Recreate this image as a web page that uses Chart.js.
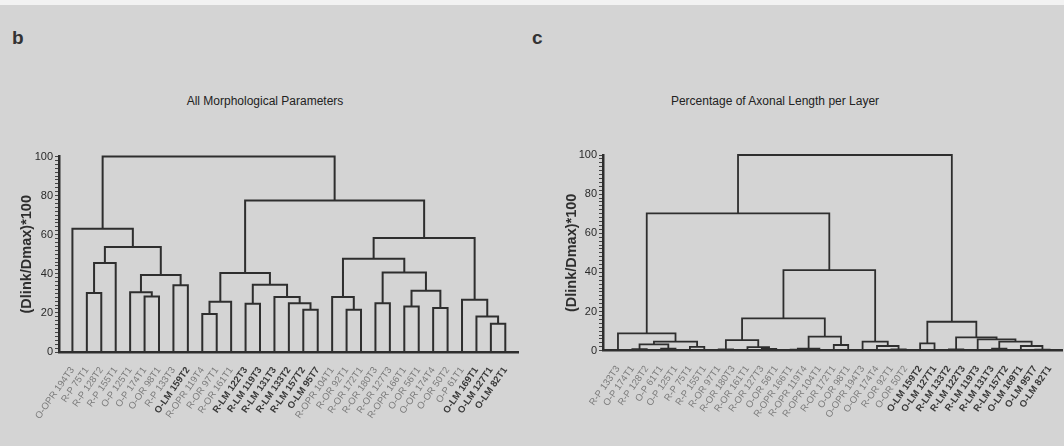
<!DOCTYPE html>
<html>
<head>
<meta charset="utf-8">
<script src="https://cdn.jsdelivr.net/npm/chart.js@4.4.0/dist/chart.umd.min.js"></script>
<style>
  body { margin: 0; width: 1064px; height: 446px; background: #d4d4d4; position: relative; overflow: hidden; font-family: "Liberation Sans", Arial, sans-serif; }
  .franja { position: absolute; left: 0; top: 0; width: 1064px; height: 5px; background: #f2f2f2; }
  canvas { position: absolute; top: 0; }
  .letra { position: absolute; font-size: 19px; font-weight: bold; color: #333; }
  .titulo { position: absolute; top: 94px; font-size: 12px; color: #222; white-space: nowrap; transform: translateX(-50%); }
</style>
</head>
<body>
<div class="franja"></div>
<div class="letra" style="left:12px; top:27px;">b</div>
<div class="letra" style="left:532px; top:27px;">c</div>
<div class="titulo" style="left:265px;">All Morphological Parameters</div>
<div class="titulo" style="left:775px;">Percentage of Axonal Length per Layer</div>
<canvas id="chartB" width="532" height="446" style="left:0px"></canvas>
<canvas id="chartC" width="520" height="446" style="left:544px"></canvas>
<script>
const FONT = '"Liberation Sans", Arial, sans-serif';

// b: all morphological parameters
const leavesB = ['O-OPR 194T3', 'R-P 75T1', 'R-P 128T2', 'R-P 155T1', 'O-P 125T1', 'O-P 174T1',
  'O-OR 98T1', 'R-P 133T3', 'O-LM 159T2', 'R-OPR 119T4', 'R-OR 97T1', 'R-OR 161T1',
  'R-LM 122T3', 'R-LM 119T3', 'R-LM 131T3', 'R-LM 133T2', 'R-LM 157T2', 'O-LM 95T7',
  'R-OPR 104T1', 'R-OR 92T1', 'R-OR 172T1', 'R-OR 180T3', 'R-OR 127T3', 'R-OPR 166T1',
  'O-OR 56T1', 'O-OR 174T4', 'O-OR 50T2', 'O-P 61T1', 'O-LM 169T1', 'O-LM 127T1', 'O-LM 82T1'];

// [left, right, height]; numbers are leaves, 'mN' is the N-th merge
const mergesB = [
  [1, 2, 30.2], ['m0', 3, 45.5], [5, 6, 28.4], [4, 'm2', 30.6], [7, 8, 34.2],
  ['m3', 'm4', 39.4], ['m1', 'm5', 53.7], [0, 'm6', 63.0], [9, 10, 19.4], ['m8', 11, 25.7],
  [12, 13, 24.7], [16, 17, 21.6], [15, 'm11', 25.0], [14, 'm12', 28.1], ['m10', 'm13', 34.4],
  ['m9', 'm14', 40.4], [19, 20, 21.6], [18, 'm16', 28.1], [21, 22, 25.0], [23, 24, 23.3],
  [25, 26, 22.5], ['m19', 'm20', 31.3], ['m18', 'm21', 40.7], ['m17', 'm22', 47.7], [29, 30, 14.5],
  [28, 'm24', 18.2], [27, 'm25', 26.7], ['m23', 'm26', 58.3], ['m15', 'm27', 77.5], ['m7', 'm28', 100]
];

// c: percentage of axonal length per layer
const leavesC = ['R-P 133T3', 'O-P 174T1', 'R-P 128T2', 'O-P 61T1', 'O-P 125T1', 'R-P 75T1',
  'R-P 155T1', 'R-OR 97T1', 'R-OR 180T3', 'R-OR 161T1', 'R-OR 127T3', 'O-OR 56T1',
  'R-OPR 166T1', 'R-OPR 119T4', 'R-OPR 104T1', 'R-OR 172T1', 'O-OR 98T1', 'O-OPR 194T3',
  'O-OR 174T4', 'R-OR 92T1', 'O-OR 50T2', 'O-LM 159T2', 'O-LM 127T1', 'R-LM 133T2',
  'R-LM 122T3', 'R-LM 119T3', 'R-LM 131T3', 'R-LM 157T2', 'O-LM 169T1', 'O-LM 95T7', 'O-LM 82T1'];

const mergesC = [
  [1, 2, 0.8], [3, 4, 1.0], ['m0', 'm1', 3.2], [5, 6, 2.0], ['m2', 'm3', 4.6],
  [0, 'm4', 8.9], [7, 8, 0.7], [10, 11, 0.9], [9, 'm7', 1.8], ['m6', 'm8', 5.45],
  [12, 13, 0.6], ['m10', 14, 1.0], [15, 16, 2.9], ['m11', 'm12', 7.2], ['m9', 'm13', 16.5],
  [19, 20, 0.7], [18, 'm15', 2.4], [17, 'm16', 4.6], ['m14', 'm17', 41.2], ['m5', 'm18', 70.2],
  [21, 22, 3.7], [23, 24, 0.7], [26, 27, 1.0], [29, 30, 0.5], [28, 'm23', 2.4],
  ['m22', 'm24', 4.6], [25, 'm25', 5.8], ['m21', 'm26', 6.8], ['m20', 'm27', 14.8], ['m19', 'm28', 100]
];

const yTicks = [0, 20, 40, 60, 80, 100];

function esLM(nombre) {
  return nombre.indexOf('LM') >= 0;
}

// turn the merge list into the elbow lines of the tree
function segmentosArbol(leaves, merges) {
  const nodo = {};
  leaves.forEach((_, i) => { nodo[i] = { x: i, y: 0 }; });
  return merges.map(([a, b, h], i) => {
    const izq = nodo[a], der = nodo[b];
    nodo['m' + i] = { x: (izq.x + der.x) / 2, y: h };
    return [
      { x: izq.x, y: izq.y }, { x: izq.x, y: h },
      { x: der.x, y: h }, { x: der.x, y: der.y }
    ];
  });
}

function dibujarDendrograma(id, leaves, merges, cfg) {
  const segmentos = segmentosArbol(leaves, merges);
  return new Chart(document.getElementById(id), {
    type: 'line',
    data: {
      datasets: segmentos.map(seg => ({
        data: seg,
        borderColor: '#2e2e2e',
        borderWidth: cfg.grosor,
        pointRadius: 0,
        tension: 0,
        fill: false,
        clip: false
      }))
    },
    options: {
      responsive: false,
      animation: false,
      layout: { padding: cfg.padding },
      plugins: {
        legend: { display: false },
        tooltip: { enabled: false }
      },
      scales: {
        x: {
          type: 'linear',
          min: cfg.xMin,
          max: cfg.xMax,
          afterBuildTicks: s => { s.ticks = leaves.map((_, i) => ({ value: i })); },
          afterFit: s => { s.height = cfg.altoX; },
          grid: { display: false },
          border: { color: '#2e2e2e', width: 2.5 },
          ticks: {
            autoSkip: false,
            minRotation: 55,
            maxRotation: 55,
            padding: 5,
            callback: v => leaves[v],
            color: c => esLM(leaves[c.index] || '') ? '#3a3a3a' : '#7a7a7a',
            font: c => ({ family: FONT, size: 9.5, weight: esLM(leaves[c.index] || '') ? 'bold' : 'normal' })
          }
        },
        y: {
          min: 0,
          max: 100,
          afterFit: s => { s.width = cfg.anchoY; },
          border: { color: '#2e2e2e', width: 2.5 },
          grid: { drawOnChartArea: false, tickLength: 4, color: '#444', lineWidth: 1 },
          title: {
            display: true,
            text: '(Dlink/Dmax)*100',
            color: '#2e2e2e',
            font: { family: FONT, size: 14.5, weight: 'bold' },
            padding: { top: 4, bottom: 0 }
          },
          ticks: {
            stepSize: 2,
            autoSkip: false,
            padding: 2,
            color: '#2a2a2a',
            font: { family: FONT, size: 11 },
            callback: v => yTicks.includes(v) ? v : ''
          }
        }
      }
    }
  });
}

dibujarDendrograma('chartB', leavesB, mergesB, {
  xMin: -0.93, xMax: 30.88, grosor: 2, altoX: 94, anchoY: 45,
  padding: { left: 14, top: 156.5, right: 14, bottom: 0 }
});

dibujarDendrograma('chartC', leavesC, mergesC, {
  xMin: -1.04, xMax: 30.9, grosor: 1.8, altoX: 95.3, anchoY: 44,
  padding: { left: 15, top: 155, right: 1, bottom: 0 }
});
</script>
</body>
</html>
